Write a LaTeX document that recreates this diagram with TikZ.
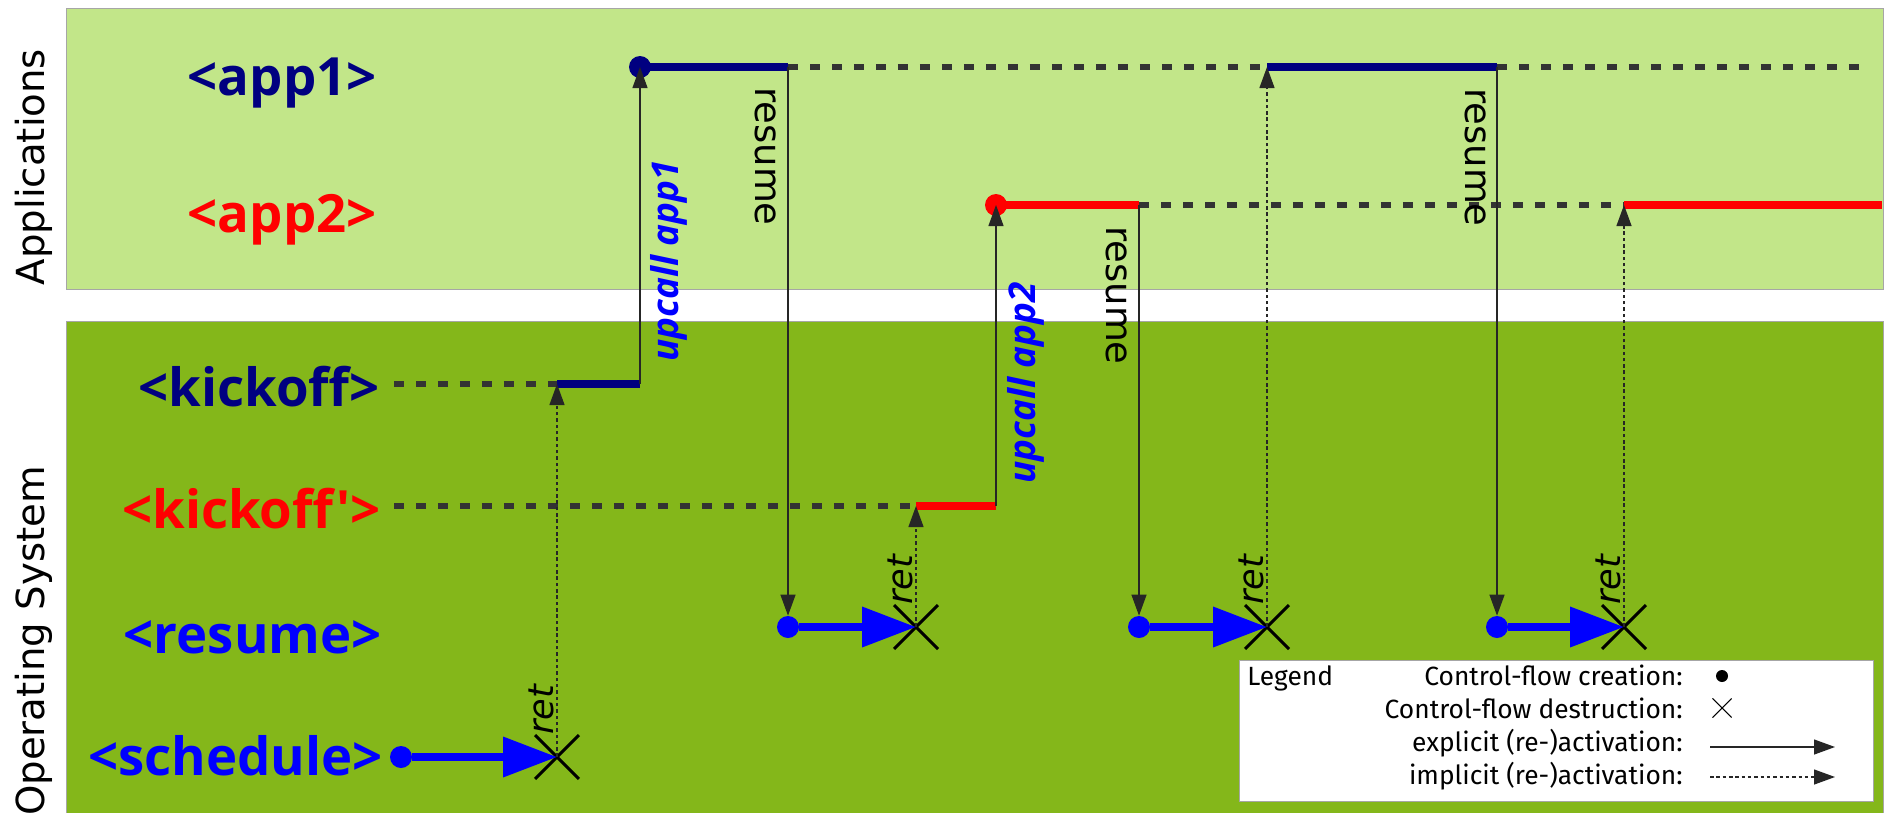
\documentclass[tikz,border=0pt]{standalone}
\usepackage{fontspec}
\setmainfont{DejaVu Sans}
\newfontfamily\lblfont{Open Sans}[Ligatures=TeXOff]
\newfontfamily\legfont{Fira Sans}
\usetikzlibrary{arrows.meta,shapes.misc}
\definecolor{appbg}{RGB}{194,230,137}
\definecolor{osbg}{RGB}{132,183,26}
\definecolor{navyblue}{RGB}{0,0,128}
\definecolor{dashgray}{RGB}{51,51,51}

\begin{document}
\begin{tikzpicture}[x=0.02cm, y=-0.02cm,
    lbl/.style={font=\lblfont\bfseries\fontsize{30pt}{36pt}\selectfont, anchor=base east, inner sep=0pt},
    layer/.style={font=\fontsize{22pt}{26pt}\selectfont, rotate=90, inner sep=0pt},
    dot/.style={circle, inner sep=0pt, minimum size=0.44cm},
    kill/.style={cross out, draw=black, line width=1.7pt, inner sep=0pt, minimum size=0.82cm},
    run/.style={line width=4pt},
    idle/.style={line width=3.4pt, dashgray, dash pattern=on 0.2cm off 0.24cm},
    call/.style={line width=4pt, blue, -{Triangle[length=1.08cm,width=0.78cm]}},
    explicit/.style={line width=0.7pt, black!85, -{Triangle[length=0.42cm,width=0.3cm]}},
    implicit/.style={explicit, dash pattern=on 2pt off 1.6pt},
    resumelbl/.style={font=\fontsize{21pt}{25pt}\selectfont, rotate=-90, anchor=north west, inner sep=0pt},
    upcalllbl/.style={font=\lblfont\bfseries\itshape\fontsize{21pt}{25pt}\selectfont, text=blue, rotate=90, anchor=north west, inner sep=0pt},
    retlbl/.style={font=\itshape\fontsize{20pt}{24pt}\selectfont, rotate=90, anchor=south west, inner sep=0pt},
    leg/.style={font=\legfont\fontsize{15pt}{18pt}\selectfont, anchor=base east, inner sep=0pt},
  ]
  \useasboundingbox (0,0) rectangle (1890,812);

  % layers
  \filldraw[fill=appbg, draw=gray!70] (66,8) rectangle (1883,289);
  \filldraw[fill=osbg, draw=gray!70] (66,321) rectangle (1883,840);
  \node[layer] (apps) at (34,167) {Applications};
  \node[layer] (os) at (34,641) {Operating System};

  % control flows
  \node[lbl, navyblue] (app1) at (377,95) {<app1>};
  \node[lbl, red] (app2) at (377,232) {<app2>};
  \node[lbl, navyblue] (kick1) at (380,406) {<kickoff>};
  \node[lbl, red] (kick2) at (381,528) {<kickoff'>};
  \node[lbl, blue] (res) at (382,653) {<resume>};
  \node[lbl, blue] (sched) at (383,775) {<schedule>};

  \coordinate (a1stop) at (788,67);
  \coordinate (a1go) at (1267,67);
  \coordinate (a1stop2) at (1497,67);
  \coordinate (a1end) at (1870,67);
  \coordinate (a2stop) at (1139,205);
  \coordinate (a2go) at (1624,205);
  \coordinate (a2end) at (1882,205);
  \coordinate (k1s) at (394,384);
  \coordinate (k1ret) at (557,384);
  \coordinate (k1up) at (640,384);
  \coordinate (k2s) at (394,506);
  \coordinate (k2ret) at (916,506);
  \coordinate (k2up) at (996,506);

  % idle phases
  \draw[idle] (a1stop) -- (a1go);
  \draw[idle] (a1stop2) -- (a1end);
  \draw[idle] (a2stop) -- (a2go);
  \draw[idle] (k1s) -- (k1ret);
  \draw[idle] (k2s) -- (k2ret);

  % running phases
  \draw[run, navyblue] (640,67) -- (a1stop);
  \draw[run, navyblue] (a1go) -- (a1stop2);
  \draw[run, red] (996,205) -- (a2stop);
  \draw[run, red] (a2go) -- (a2end);
  \draw[run, navyblue] (k1ret) -- (k1up);
  \draw[run, red] (k2ret) -- (k2up);

  \node[dot, fill=navyblue] (a1) at (640,67) {};
  \node[dot, fill=red] (a2) at (996,205) {};

  % schedule and resume
  \node[dot, fill=blue] (s0) at (401,757) {};
  \node[kill] (x1) at (557,757) {};
  \node[dot, fill=blue] (r1) at (788,627) {};
  \node[kill] (x2) at (916,627) {};
  \node[dot, fill=blue] (r2) at (1139,627) {};
  \node[kill] (x3) at (1267,627) {};
  \node[dot, fill=blue] (r3) at (1497,627) {};
  \node[kill] (x4) at (1624,627) {};
  \draw[call] (s0) -- (x1.center);
  \draw[call] (r1) -- (x2.center);
  \draw[call] (r2) -- (x3.center);
  \draw[call] (r3) -- (x4.center);

  % activations
  \draw[explicit] (k1up) -- (a1.center);
  \draw[explicit] (k2up) -- (a2.center);
  \draw[explicit] (a1stop) -- (r1);
  \draw[explicit] (a2stop) -- (r2);
  \draw[explicit] (a1stop2) -- (r3);
  \draw[implicit] (x1.center) -- (k1ret);
  \draw[implicit] (x2.center) -- (k2ret);
  \draw[implicit] (x3.center) -- (a1go);
  \draw[implicit] (x4.center) -- (a2go);

  \node[upcalllbl] (up1) at (650,362) {upcall app1};
  \node[upcalllbl] (up2) at (1007,484) {upcall app2};
  \node[resumelbl] (rs1) at (777,87) {resume};
  \node[resumelbl] (rs2) at (1128,226) {resume};
  \node[resumelbl] (rs3) at (1486,88) {resume};
  \node[retlbl] (ret1) at (554,735) {ret};
  \node[retlbl] (ret2) at (913,605) {ret};
  \node[retlbl] (ret3) at (1264,605) {ret};
  \node[retlbl] (ret4) at (1621,605) {ret};

  % legend
  \filldraw[fill=white, draw=gray!70] (1239,660) rectangle (1873,801);
  \node[leg, anchor=base west] (legtitle) at (1247,685) {Legend};
  \node[leg] (legc) at (1683,685) {Control-flow creation:};
  \node[leg] (legd) at (1683,718) {Control-flow destruction:};
  \node[leg] (lege) at (1683,751) {explicit (re-)activation:};
  \node[leg] (legi) at (1683,784) {implicit (re-)activation:};
  \node[dot, fill=black, minimum size=0.24cm] (legdot) at (1722,676) {};
  \node[kill, line width=0.6pt, minimum size=0.36cm] (legx) at (1722,708) {};
  \coordinate (le0) at (1710,747);
  \coordinate (le1) at (1835,747);
  \coordinate (li0) at (1710,777);
  \coordinate (li1) at (1835,777);
  \draw[explicit] (le0) -- (le1);
  \draw[implicit] (li0) -- (li1);
\end{tikzpicture}
\end{document}
